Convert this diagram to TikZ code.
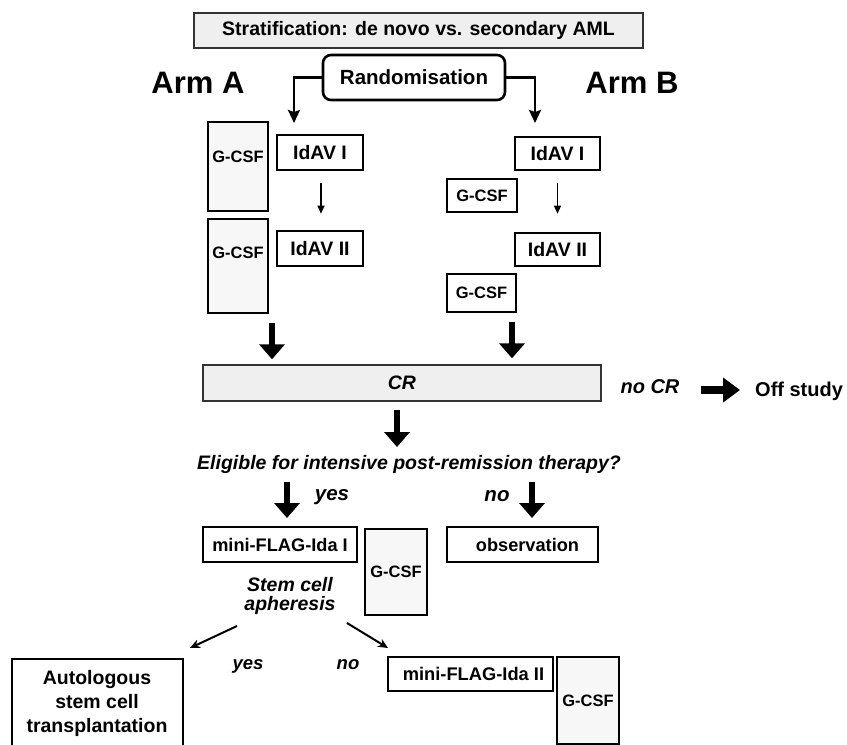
\documentclass[tikz,border=0pt]{standalone}
\usepackage{fontspec}
\setmainfont{Liberation Sans}
\usetikzlibrary{arrows.meta}
\newcommand\setfs[2]{\fontsize{#1}{#2}\selectfont}
\definecolor{gfill}{HTML}{F7F7F7}
\definecolor{pfill}{HTML}{EFEFEF}
\begin{document}
\begin{tikzpicture}[x=1pt,y=-1pt,
  box/.style={draw=black, line width=2.6pt, fill=white, inner sep=0pt, font={\bfseries\setfs{19.5}{22}}},
  gbox/.style={box, fill=gfill, font={\bfseries\setfs{16.5}{18}}},
  pbox/.style={draw=black!80, line width=1.4pt, fill=pfill, inner sep=0pt},
  txt/.style={inner sep=0pt, font={\bfseries\setfs{19.5}{22}}},
  itxt/.style={inner sep=0pt, font={\bfseries\itshape\setfs{19.5}{22}}},
  thinarrow/.style={line width=1.3pt, -{Triangle[length=8pt,width=7pt]}},
  elbow/.style={line width=2.6pt, -{Stealth[length=13pt,width=12pt,inset=2pt]}},
  block/.style={line width=6pt, -{Triangle[length=15pt,width=25pt]}},
  blockh/.style={line width=8pt, -{Triangle[length=17pt,width=24pt]}},
  diag/.style={line width=2pt, -{Stealth[length=10pt,width=9pt]}}
]
\useasboundingbox (0,0) rectangle (847,745);
\fill[white] (0,0) rectangle (847,745);
\clip (0,0) rectangle (847,745);

% top
\node[pbox, minimum width=449pt, minimum height=35pt, font={\bfseries\setfs{19.5}{22}}] (strat) at (418.5,30.5) {Stratification: de novo vs. secondary AML};
\node[box, rounded corners=8pt, minimum width=182pt, minimum height=45pt, font={\bfseries\setfs{20.5}{22}}] (rand) at (414,77.5) {Randomisation};
\node[txt, font={\bfseries\setfs{31}{34}}] (armA) at (198,83) {Arm A};
\node[txt, font={\bfseries\setfs{31}{34}}] (armB) at (632,83) {Arm B};
\coordinate (tA) at (294,123);
\coordinate (tB) at (535,123);
\draw[elbow] (rand.west) -| (tA);
\draw[elbow] (rand.east) -| (tB);

% arm A
\node[gbox, minimum width=60pt, minimum height=89pt] (lgcsf1) at (238,166.5) {};
\node[txt, font={\bfseries\setfs{16.5}{18}}] (lgcsf1t) at (238,157) {G-CSF};
\node[box, minimum width=86pt, minimum height=35pt] (lidav1) at (320,152.5) {IdAV I};
\node[gbox, minimum width=60pt, minimum height=94pt] (lgcsf2) at (238,266) {};
\node[txt, font={\bfseries\setfs{16.5}{18}}] (lgcsf2t) at (238,253) {G-CSF};
\node[box, minimum width=86pt, minimum height=35pt] (lidav2) at (320,248.5) {IdAV II};
\draw[thinarrow, shorten <=12pt, shorten >=16pt] ([xshift=1pt]lidav1.south) -- ([xshift=1pt]lidav2.north);

% arm B
\node[box, minimum width=85pt, minimum height=33pt] (ridav1) at (557.5,153.5) {IdAV I};
\node[box, minimum width=70pt, minimum height=33pt, font={\bfseries\setfs{16.5}{18}}] (rgcsf1) at (482,195.5) {G-CSF};
\node[box, minimum width=85pt, minimum height=33pt] (ridav2) at (557.5,249.5) {IdAV II};
\node[box, minimum width=69pt, minimum height=38pt, font={\bfseries\setfs{16.5}{18}}] (rgcsf2) at (481.5,293) {G-CSF};
\draw[thinarrow, shorten <=12pt, shorten >=18pt] (ridav1.south) -- (ridav2.north);

% CR
\node[pbox, minimum width=398pt, minimum height=36pt, font={\bfseries\itshape\setfs{19.5}{22}}] (CR) at (402,383) {CR};
\coordinate (aA) at (272,323);
\coordinate (aB) at (512,322);
\draw[block, shorten >=5pt] (aA) -- (aA |- CR.north);
\draw[block, shorten >=6pt] (aB) -- (aB |- CR.north);
\node[itxt, font={\bfseries\itshape\setfs{20}{22}}] (nocr) at (650,387) {no CR};
\node[txt, anchor=west, font={\bfseries\setfs{20}{22}}] (off) at (755,391) {Off study};
\draw[blockh, shorten <=21pt, shorten >=15pt] (nocr.east |- 0,390) -- (off.west |- 0,390);

% eligibility
\coordinate (c1) at (397,410);
\coordinate (c2) at (397,447);
\draw[block] (c1) -- (c2);
\node[itxt] (elig) at (409,464) {Eligible for intensive post-remission therapy?};
\coordinate (y1) at (287,482);
\coordinate (y2) at (287,518);
\coordinate (n1) at (532,482);
\coordinate (n2) at (532,518);
\draw[block, line width=6.5pt] (y1) -- (y2);
\draw[block, line width=6.5pt] (n1) -- (n2);
\node[itxt, font={\bfseries\itshape\setfs{20.5}{22}}] (yes1) at (332,497) {yes};
\node[itxt, font={\bfseries\itshape\setfs{20.5}{22}}] (no1) at (497,496) {no};

\node[box, minimum width=154pt, minimum height=35pt, font={\bfseries\setfs{18.2}{20}}] (mfi1) at (280,544.5) {mini-FLAG-Ida I};
\node[gbox, minimum width=62pt, minimum height=86pt] (gcsf3) at (396,572) {G-CSF};
\node[box, minimum width=151pt, minimum height=35pt, font={\bfseries\setfs{18.2}{20}}] (obs) at (522.5,544.5) {\hspace{10pt}observation};

\node[itxt, align=center, font={\bfseries\itshape\setfs{19.5}{19}}] (stem) at (290,596) {Stem cell\\apheresis};
\coordinate (d1) at (237,626);
\coordinate (d2) at (190,648);
\coordinate (d3) at (347,623);
\coordinate (d4) at (388,648);
\draw[diag] (d1) -- (d2);
\draw[diag] (d3) -- (d4);
\node[itxt, font={\bfseries\itshape\setfs{18.5}{20}}] (yes2) at (248,666) {yes};
\node[itxt, font={\bfseries\itshape\setfs{18.5}{20}}] (no2) at (348,665) {no};

\node[box, minimum width=171pt, minimum height=91pt] (auto) at (97.5,704.5) {};
\node[txt, align=center, font={\bfseries\setfs{19.5}{24}}] (autot) at (97,703) {Autologous\\stem cell\\transplantation};
\node[box, minimum width=165pt, minimum height=34pt, font={\bfseries\setfs{18.3}{20}}] (mfi2) at (470.5,674) {\hspace{6pt}mini-FLAG-Ida II};
\node[gbox, minimum width=62pt, minimum height=87pt] (gcsf4) at (588,700.5) {G-CSF};
\end{tikzpicture}
\end{document}
